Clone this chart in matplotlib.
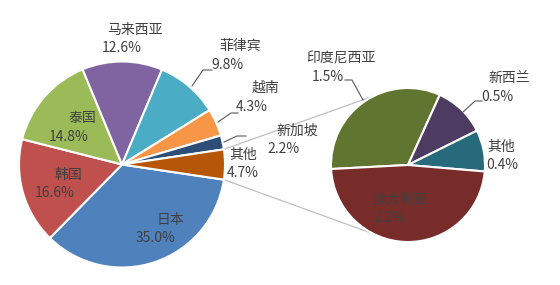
import math
import matplotlib
matplotlib.use("Agg")
import matplotlib.pyplot as plt

plt.rcParams['font.family'] = ['Noto Sans CJK SC', 'DejaVu Sans']

# main pie, clockwise from the lower right
main_names = ["日本", "韩国", "泰国", "马来西亚", "菲律宾", "越南", "新加坡", "其他"]
main_values = [35.0, 16.6, 14.8, 12.6, 9.8, 4.3, 2.2, 4.7]
main_colors = ["#4F81BD", "#C0504D", "#9BBB59", "#8064A2",
               "#4BACC6", "#F79646", "#2C4D75", "#B65708"]

# secondary pie: breakdown of 其他
sub_names = ["印度尼西亚", "新西兰", "其他", "澳大利亚"]
sub_values = [1.5, 0.5, 0.4, 2.2]
sub_colors = ["#5F7530", "#4D3B62", "#276A7C", "#772C2A"]

W, H = 560, 285
TXT = "#404040"
FS = 10

# layout (pixel coords, y from top)
main_c = (122, 164.5)
main_r = 103
sub_c = (408, 165)
sub_r = 77

# (name xy, value xy) per label
main_pos = [((170, 220), (156, 238)), ((68, 175), (55, 193)),
            ((82, 118), (69, 137)), ((135, 30), (122, 48)),
            ((240, 46), (227, 65)), ((265, 88), (252, 107)),
            ((297, 131), (284, 149)), ((243, 155), (243, 173))]
sub_pos = [((341, 58), (328, 77)), ((509, 78), (497, 97)),
           ((501, 147), (502, 165)), ((400, 200), (389, 218))]

leaders = [[(192, 86), (203, 70), (212, 70)],
           [(218, 122), (231, 113), (238, 113)],
           [(224, 142), (237, 136), (246, 136)],
           [(363, 100), (352, 80), (345, 80)],
           [(463, 112), (475, 101), (482, 101)]]


def fy(y):
    return H - y


fig = plt.figure(figsize=(W / 100, H / 100), dpi=100)
ax = fig.add_axes([0, 0, 1, 1])

start = -main_values[-1] / sum(main_values) * 360 / 2
ax.pie(main_values, colors=main_colors, startangle=start,
       counterclock=False, center=(main_c[0], fy(main_c[1])),
       radius=main_r,
       wedgeprops=dict(edgecolor="white", linewidth=1.5))
ax.pie(sub_values, colors=sub_colors, startangle=183,
       counterclock=False, center=(sub_c[0], fy(sub_c[1])),
       radius=sub_r,
       wedgeprops=dict(edgecolor="white", linewidth=1.5))

# connector lines between the pies
half = math.radians(-start)
for sgn in (1, -1):
    x1 = main_c[0] + main_r * math.cos(half)
    y1 = fy(main_c[1]) + sgn * main_r * math.sin(half)
    a2 = math.radians(sgn * 116)
    x2 = sub_c[0] + sub_r * math.cos(a2)
    y2 = fy(sub_c[1]) + sub_r * math.sin(a2)
    ax.plot([x1, x2], [y1, y2], color="#BFBFBF", lw=0.9, zorder=0)

for pts in leaders:
    ax.plot([p[0] for p in pts], [fy(p[1]) for p in pts],
            color="#595959", lw=0.8)

for names, values, pos in ((main_names, main_values, main_pos),
                           (sub_names, sub_values, sub_pos)):
    for name, val, (p1, p2) in zip(names, values, pos):
        ax.text(p1[0], fy(p1[1]), name, ha="center", va="center",
                fontsize=FS, color=TXT)
        ax.text(p2[0], fy(p2[1]), "{0:.1f}%".format(val), ha="center",
                va="center", fontsize=FS, color=TXT)

ax.set_xlim(0, W)
ax.set_ylim(0, H)
ax.set_aspect("equal")
ax.axis("off")
fig.savefig("out.png", dpi=100, facecolor="white")
